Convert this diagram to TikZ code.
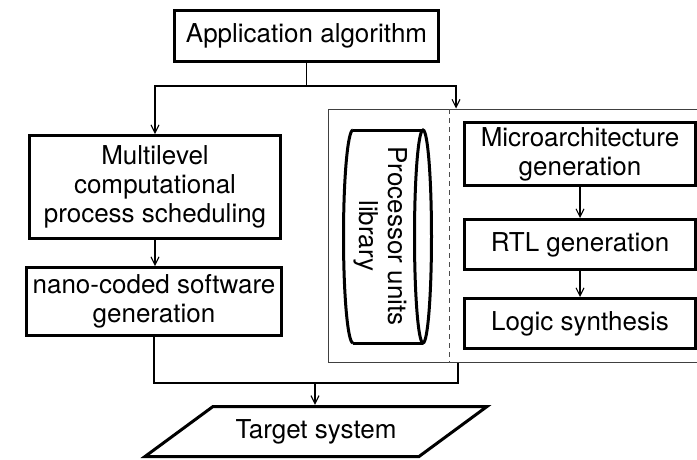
\documentclass[tikz,border=0pt]{standalone}
\usepackage{fontspec}
\setmainfont{TeX Gyre Heros}
\usetikzlibrary{arrows.meta}
\begin{document}
\begin{tikzpicture}[x=1pt,y=-1pt,
  every node/.style={font=\fontsize{26}{29}\selectfont},
  box/.style={draw=black, line width=3pt, inner sep=0pt, align=center},
  thinline/.style={draw=black, line width=1.1pt},
  arr/.style={thinline, -{Straight Barb[length=8pt,width=8pt,line width=1.1pt]}},
]
\useasboundingbox (0,0) rectangle (697,459);
\fill[white] (0,0) rectangle (697,459);

% outer region
\node[draw=black!75, line width=1pt, minimum width=392pt, minimum height=253pt, inner sep=0pt] (outer) at (524,235.5) {};
\coordinate (dashtop) at (449,109);
\draw[black!70, line width=1pt, dash pattern=on 5pt off 4pt] (dashtop) -- (dashtop |- outer.south);

% boxes
\node[box, minimum width=264pt, minimum height=51pt] (app) at (306.5,36) {Application algorithm};
\node[box, minimum width=251pt, minimum height=103pt] (multi) at (155,187) {Multilevel\\computational\\process scheduling};
\node[box, minimum width=255pt, minimum height=68pt] (nano) at (154,301.5) {nano-coded software\\generation};
\node[box, minimum width=231pt, minimum height=63pt] (micro) at (580,154) {Microarchitecture\\generation};
\node[box, minimum width=231pt, minimum height=50pt] (rtl) at (580,244.5) {RTL generation};
\node[box, minimum width=231pt, minimum height=50pt] (logic) at (580,323.5) {Logic synthesis};

% cylinder library
\node[inner sep=0pt, align=center, rotate=-90] (lib) at (381,236) {Processor units\\library};
\draw[line width=3pt] (353,130) -- (423,130);
\draw[line width=3pt] (353,343) -- (423,343);
\draw[line width=3pt] (423,236.5) ellipse [x radius=8.5, y radius=106.5];
\draw[line width=3pt] (353,130) arc [start angle=270, end angle=90, x radius=9.5, y radius=106.5];

% target system
\node[inner sep=0pt, minimum width=200pt, minimum height=50pt] (target) at (316,431.5) {Target system};
\draw[line width=3pt, line join=miter] (213,406.5) -- (487,406.5) -- (419,456.5) -- (145,456.5) -- cycle;

% connectors
\coordinate (split) at (306.5,86);
\coordinate (libin) at (456,86);
\draw[thinline] (app.south) -- (split);
\draw[arr] (split) -| (multi.north);
\draw[arr] (split) -- (libin) -- (libin |- outer.north);
\draw[arr] (multi.south) -- (multi.south |- nano.north);
\draw[arr] (micro.south) -- (rtl.north);
\draw[arr] (rtl.south) -- (logic.north);
\coordinate (join) at (315,383);
\coordinate (joinR) at (458,383);
\draw[thinline] (nano.south) |- (joinR) -- (joinR |- outer.south);
\draw[arr, shorten >=1.5pt] (join) -- (join |- target.north);
\end{tikzpicture}
\end{document}
